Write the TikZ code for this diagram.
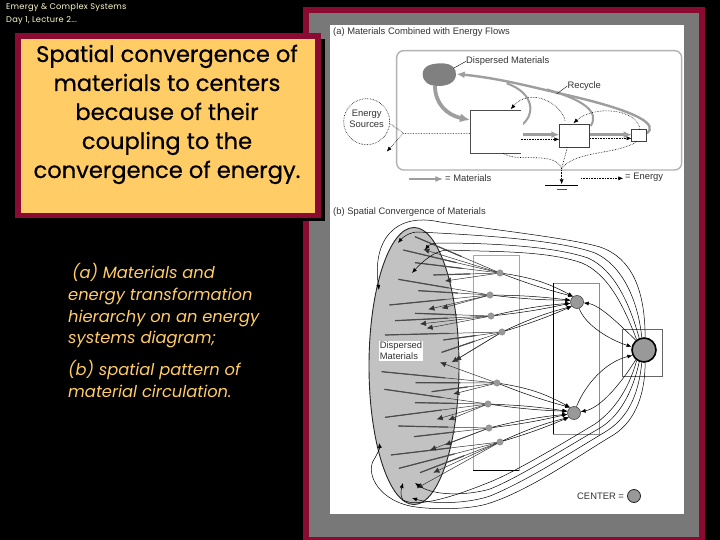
\documentclass[tikz,border=0pt]{standalone}
\usepackage{fontspec}
\setmainfont{Liberation Sans}
\newfontfamily\comic{Poppins}
\newfontfamily\comicheavy[FakeBold=0.5]{Poppins}
\usetikzlibrary{arrows.meta,shapes.geometric,calc}
\definecolor{maroonc}{HTML}{8B0A32}
\definecolor{framegray}{HTML}{787878}
\definecolor{yellowc}{HTML}{FFCC66}
\definecolor{flowgray}{HTML}{9E9E9E}
\definecolor{centergray}{HTML}{999999}
\tikzset{
  flow/.style={draw=flowgray,line width=2.4pt,-{Latex[length=8pt,width=7pt]}},
  flowplain/.style={draw=flowgray,line width=2pt},
  energy/.style={draw=black,line width=.6pt,densely dotted},
  energyarrow/.style={energy,-{Latex[length=5pt,width=4pt]}},
  procbox/.style={draw=black!75,fill=white,line width=.8pt,inner sep=0pt},
  lab/.style={font=\fontsize{9.4}{11}\selectfont,text=black!80,inner sep=0pt},
  spoke/.style={draw=black!80,line width=.5pt},
  spokethick/.style={draw=black!70,line width=1.2pt},
  spokehead/.style={draw=black!80,line width=.5pt,-{Latex[length=6pt,width=5.5pt]}},
  link/.style={draw=black,line width=.5pt,-{Latex[length=5pt,width=4pt]}},
  smallc/.style={circle,fill=centergray,draw=black!50,line width=.3pt,minimum size=6.5pt,inner sep=0pt},
  midc/.style={circle,fill=centergray,draw=black!80,line width=.5pt,minimum size=13pt,inner sep=0pt},
  zoneA/.style={x=1pt/3,y=-1pt/3,shift={(300pt,0pt)}},
  zoneB/.style={x=1pt/3,y=-1pt/3,shift={(320pt,-200pt)}},
  headtext/.style={text=yellow!20!white,inner sep=0pt,anchor=base west,font=\comic\addfontfeatures{LetterSpace=3}\fontsize{8.25}{9}\selectfont},
  titletext/.style={inner sep=0pt,anchor=base,font=\comicheavy\fontsize{22.6}{29}\selectfont},
  bodytext/.style={text=yellowc,inner sep=0pt,anchor=base west,font=\comic\itshape\fontsize{16.3}{18}\selectfont},
}
\begin{document}
\begin{tikzpicture}[x=1pt,y=-1pt]
\useasboundingbox (0,0) rectangle (720,540);
\fill[black] (0,0) rectangle (720,540);
% frame
\fill[maroonc] (303,7) rectangle (705,540);
\fill[framegray] (309,13) rectangle (699,537);
\fill[white] (330,25) rectangle (684,514);
% header
\node[headtext] (h1) at (6,10) {Emergy \& Complex Systems};
\node[headtext] (h2) at (6,23) {Day 1, Lecture 2...};
% title box
\fill[black] (21,39) rectangle (325,221);
\fill[maroonc] (15,33) rectangle (321,218);
\fill[yellowc] (21,39) rectangle (315,213);
\foreach \n/\yy/\t in {t1/62/Spatial convergence of,t2/91/materials to centers,t3/120/because of their,t4/149/coupling to the,t5/178/convergence of energy.}
  \node[titletext] (\n) at (167,\yy) {\t};
% body
\node[bodytext] (b1) at (72,278) {(a) Materials and};
\node[bodytext] (b2) at (68,300) {energy transformation};
\node[bodytext] (b3) at (68,322) {hierarchy on an energy};
\node[bodytext] (b4) at (68,343) {systems diagram;};
\node[bodytext] (b5) at (68,375) {(b) spatial pattern of};
\node[bodytext] (b6) at (68,397) {material circulation.};

% ---------- part (a)
\node[lab,anchor=west] (la) at (333,32.5) {(a) Materials Combined with Energy Flows};
\begin{scope}[zoneA]
\draw[draw=black!30,line width=1.4pt,rounded corners=7pt] (290,152) rectangle (1145,510);
\fill[black!50] (368,222) .. controls (368,195) and (400,190) .. (425,190) .. controls (455,190) and (470,205) .. (468,225) .. controls (465,250) and (440,258) .. (415,258) .. controls (385,258) and (368,245) .. (368,222) -- cycle;
\node[draw,circle,densely dotted,black,line width=.6pt,minimum size=46pt,inner sep=0pt] (src) at (200,365) {};
\node[lab,align=center] (srct) at (200,355) {Energy\\Sources};
\coordinate (sp) at (310,400);
\coordinate (gnd) at (785,505);
\coordinate (gndtip) at (785,553);
\coordinate (sinkend) at (260,455);
\coordinate (mtip) at (470,222);
% flows
\path[flowplain] (665,375) .. controls (705,345) and (705,280) .. (620,250);
\path[flowplain] (872,378) .. controls (900,335) and (850,300) .. (740,268);
\path[flow] (1040,400) .. controls (1075,375) and (1020,335) .. (800,285) .. controls (700,262) and (600,235) .. (mtip);
\path[draw=flowgray,line width=3.8pt,-{Latex[length=10pt,width=9pt]}] (405,258) .. controls (405,310) and (440,345) .. (510,360);
\path[flow] (662,404) -- (778,404);
\path[flow] (870,404) -- (995,404);
% boxes
\node[procbox,minimum width=50.7pt,minimum height=43.3pt,draw=black!70] (box1) at (586,395) {};
\fill[white] (655,332) rectangle (668,458);
\node[procbox,minimum width=30pt,minimum height=23.3pt,line width=.9pt] (box2) at (823,407) {};
\node[procbox,minimum width=15pt,minimum height=11.7pt] (box3) at (1017,407) {};
% energy
\draw[energy] (272,372) -- (sp) -- (510,400);
\draw[energyarrow] (sp) -- (sinkend);
\draw[energyarrow] (662,418) -- (778,418);
\draw[energyarrow] (870,415) -- (995,415);
\draw[energyarrow] (795,362) .. controls (785,310) and (690,260) .. (632,328);
\draw[energyarrow] (1020,390) .. controls (1015,325) and (880,315) .. (820,370);
\draw[energy] (610,460) .. controls (650,490) and (760,450) .. (gnd);
\draw[energy] (802,442) -- (gnd);
\draw[energy] (1010,425) .. controls (950,465) and (830,450) .. (gnd);
\draw[energyarrow] (gnd) -- (gndtip);
\draw[black,line width=.8pt] (735,555) -- (835,555);
\draw[black!70,line width=.6pt] (770,567) -- (800,567);
% labels
\node[lab,anchor=west] (ldm) at (498,184) {Dispersed Materials};
\draw[black,line width=.4pt] (ldm.west) -- (460,205);
\node[lab,anchor=west] (lrc) at (802,258) {Recycle};
\draw[black,line width=.4pt] (lrc.west) -- (770,282);
% legend
\coordinate (lg1) at (328,537);
\coordinate (lg2) at (430,537);
\coordinate (lg3) at (843,535);
\coordinate (lg4) at (970,535);
\path[draw=flowgray,line width=1.3pt,-{Latex[length=8pt,width=6pt]}] (lg1) -- (lg2);
\node[lab,anchor=west] (lm) at (435,534) {= Materials};
\draw[energyarrow] (lg3) -- (lg4);
\node[lab,anchor=west] (le) at (975,533) {= Energy};
\end{scope}

% ---------- part (b)
\node[lab,anchor=west] (lb) at (333,212) {(b) Spatial Convergence of Materials};
\draw[black!35,line width=.7pt] (473,255) rectangle (519,470);
\draw[black,line width=.7pt] (473,470) -- (519,470);
\draw[black!45,line width=1pt] (553,283) rectangle (599,434);
\draw[black,line width=.7pt] (553,283) -- (553,434);
\draw[black!60,line width=.8pt] (622,329) rectangle (662,376);
\node[ellipse,draw=black!85,line width=.9pt,fill=black!24,minimum width=90pt,minimum height=277pt,inner sep=0pt] (dm) at (414,366) {};
\node[smallc] (c1) at (500,273) {};
\node[smallc] (c2) at (490,295) {};
\node[smallc] (c3) at (491,316) {};
\node[smallc] (c4) at (502,332) {};
\node[smallc] (c5) at (497,383) {};
\node[smallc] (c6) at (488,404) {};
\node[smallc] (c7) at (489,428) {};
\node[smallc] (c8) at (500,442) {};
\node[midc] (m1) at (577,302) {};
\node[midc] (m2) at (574,413) {};
\node[circle,fill=centergray,draw=black,line width=1.6pt,minimum size=24pt,inner sep=0pt] (big) at (644,350) {};
% spokes
\begin{scope}[zoneB]
\foreach \c/\pts in {
  c1/{250/150,285/188,340/225,285/110},
  c2/{235/238,295/272,208/315},
  c3/{285/340,225/362},
  c4/{195/405,370/420,365/457},
  c5/{185/515,287/548,335/575},
  c6/{193/568,285/608,195/652},
  c7/{235/678,282/710},
  c8/{213/765,237/805,300/818}}{
  \foreach \px/\py in \pts {
    \coordinate (e) at (\px,\py);
    \draw[spoke] (\c) -- (e);
    \draw[spokethick] ($(\c)!0.45!(e)$) -- (e);
  }
}
\foreach \c/\pts in {
  c1/{310/148,375/243},
  c2/{325/328,365/325},
  c3/{300/372,320/385},
  c4/{395/487,405/482},
  c5/{400/582,360/487},
  c6/{350/658,385/660},
  c7/{375/735,330/750},
  c8/{340/818,290/865}}{
  \foreach \px/\py in \pts {
    \coordinate (e) at (\px,\py);
    \draw[spokehead] (\c) -- (e);
  }
}
\end{scope}
% links to mid centres
\foreach \c/\a/\b in {c1/125/10,c2/165/3,c3/190/4,c4/220/5}{
  \draw[link] (\c) to[bend left=\b] (m1.\a);
  \draw[link] (\c) to[bend right=3] (m1.\a);
}
\foreach \c/\a/\b in {c5/125/10,c6/165/3,c7/190/4,c8/220/5}{
  \draw[link] (\c) to[bend left=\b] (m2.\a);
  \draw[link] (\c) to[bend right=3] (m2.\a);
}
% mid to big
\draw[link,{Latex[length=5pt,width=4pt]}-] (m1) .. controls (600,305) and (620,325) .. (big.130);
\draw[link] (m1) .. controls (585,325) and (610,340) .. (big.165);
\draw[link] (m2) .. controls (585,385) and (605,362) .. (big.205);
\draw[link,{Latex[length=5pt,width=4pt]}-] (m2) .. controls (600,408) and (620,385) .. (big.230);
% outer curves
\coordinate (t1) at (379,290);
\coordinate (t2) at (398,243);
\coordinate (t3) at (425,250);
\coordinate (t4) at (412,273);
\coordinate (u1) at (379,443);
\coordinate (u2) at (412,498);
\coordinate (u3) at (415,483);
\coordinate (u4) at (403,483);
\draw[link] (big.85) .. controls (645,290) and (632,258) .. (600,247) .. controls (570,238) and (480,228) .. (440,222) .. controls (395,212) and (372,240) .. (t1);
\draw[link] (big.100) .. controls (638,300) and (622,265) .. (595,253) .. controls (560,240) and (480,235) .. (418,232) .. controls (410,232) and (403,237) .. (t2);
\draw[link] (big.112) .. controls (630,305) and (615,270) .. (588,258) .. controls (550,245) and (480,243) .. (438,243) .. controls (432,243) and (428,246) .. (t3);
\draw[link] (big.125) .. controls (625,310) and (610,275) .. (582,263) .. controls (545,250) and (490,252) .. (448,250) .. controls (435,250) and (422,262) .. (t4);
\draw[link] (big.-85) .. controls (645,400) and (632,425) .. (610,437) .. controls (580,455) and (530,490) .. (490,503) .. controls (470,510) and (430,510) .. (410,506) .. controls (375,498) and (365,470) .. (375,458) .. controls (378,452) and (380,448) .. (u1);
\draw[link] (big.-100) .. controls (638,400) and (625,420) .. (605,432) .. controls (575,450) and (525,482) .. (490,496) .. controls (470,503) and (435,505) .. (u2);
\draw[link] (big.-112) .. controls (632,395) and (618,417) .. (600,428) .. controls (570,445) and (520,477) .. (490,489) .. controls (470,495) and (435,497) .. (u3);
\draw[link] (big.-125) .. controls (628,392) and (612,412) .. (595,424) .. controls (565,442) and (515,472) .. (490,482) .. controls (470,490) and (420,510) .. (403,500) .. controls (400,496) and (401,490) .. (u4);
% labels of (b)
\node[fill=white,inner sep=1pt,align=left,font=\fontsize{9.4}{11}\selectfont,text=black!80] (dmt) at (401,351) {Dispersed\\Materials};
\node[lab,anchor=west] (ck) at (577,496.5) {CENTER =};
\node[circle,fill=centergray,draw=black!85,line width=.8pt,minimum size=13pt,inner sep=0pt] (ckc) at (634,496) {};
\end{tikzpicture}
\end{document}
